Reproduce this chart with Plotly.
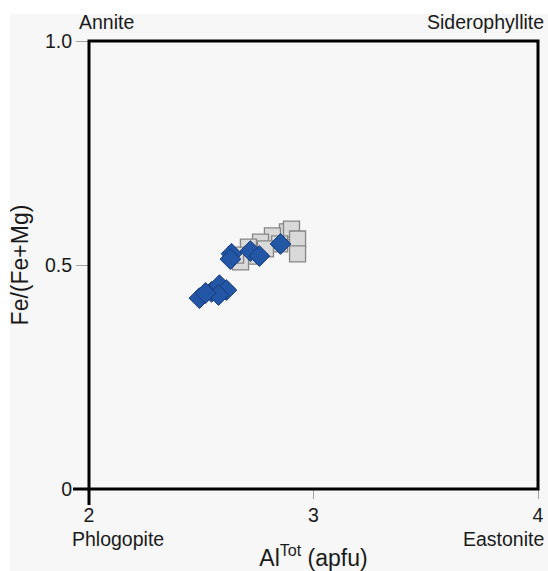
import plotly.graph_objects as go

# Gray squares (series 1)
sq_al = [2.884, 2.902, 2.929, 2.929, 2.817, 2.764, 2.710, 2.733, 2.675, 2.849, 2.653, 2.786]
sq_fe = [0.574, 0.580, 0.558, 0.525, 0.565, 0.551, 0.540, 0.520, 0.507, 0.547, 0.522, 0.536]

# Blue diamonds (series 2)
dm_al = [2.853, 2.719, 2.759, 2.635, 2.630, 2.492, 2.546, 2.581, 2.612, 2.577, 2.519]
dm_fe = [0.547, 0.531, 0.520, 0.525, 0.513, 0.426, 0.440, 0.455, 0.444, 0.433, 0.4375]

x_ticks = [2, 3, 4]
x_ticklabels = ["2", "3", "4"]
y_ticks = [0, 0.5, 1.0]
y_ticklabels = ["0", "0.5", "1.0"]

BG = "#f7f7f7"
FONT = "Liberation Sans, Arial, sans-serif"

fig = go.Figure()
fig.add_trace(go.Scatter(
    x=sq_al, y=sq_fe, mode="markers",
    marker=dict(symbol="square", size=16, color="#d9d9d9",
                line=dict(color="#858585", width=1.3)),
    showlegend=False, cliponaxis=False))
fig.add_trace(go.Scatter(
    x=dm_al, y=dm_fe, mode="markers",
    marker=dict(symbol="diamond", size=16, color="#2456a6",
                line=dict(color="#163c7a", width=1)),
    showlegend=False, cliponaxis=False))

W, H = 548, 571
L, R, T, B = 89, 10, 41, 82
pw, ph = W - L - R, H - T - B

def px_x(p):
    return (p - L) / pw

def px_y(p):
    return (H - B - p) / ph

shapes = [
    dict(type="rect", xref="paper", yref="paper", x0=px_x(10), x1=px_x(W + 5),
         y0=px_y(H + 5), y1=px_y(14), fillcolor=BG, line=dict(width=0), layer="below"),
    dict(type="rect", xref="paper", yref="paper", x0=0, x1=1, y0=0, y1=1,
         line=dict(color="black", width=3), layer="above"),
    dict(type="line", xref="paper", yref="paper", x0=0, x1=0, y0=0, y1=px_y(H - B + 16),
         line=dict(color="black", width=3)),
    dict(type="line", xref="paper", yref="paper", x0=px_x(L - 16), x1=0, y0=0, y1=0,
         line=dict(color="black", width=3)),
]

annotations = [
    dict(text="Annite", xref="paper", yref="paper", x=px_x(77), y=px_y(22),
         xanchor="left", yanchor="middle", showarrow=False),
    dict(text="Siderophyllite", xref="paper", yref="paper", x=px_x(546), y=px_y(22),
         xanchor="right", yanchor="middle", showarrow=False),
    dict(text="Phlogopite", xref="paper", yref="paper", x=px_x(70), y=px_y(539),
         xanchor="left", yanchor="middle", showarrow=False),
    dict(text="Eastonite", xref="paper", yref="paper", x=px_x(546), y=px_y(539),
         xanchor="right", yanchor="middle", showarrow=False),
]

fig.update_layout(
    width=W, height=H,
    margin=dict(l=L, r=R, t=T, b=B),
    paper_bgcolor="white", plot_bgcolor=BG,
    font=dict(family=FONT, size=19.5, color="#1a1a1a"),
    shapes=shapes, annotations=annotations,
    xaxis=dict(range=[2, 4], tickvals=x_ticks, ticktext=x_ticklabels,
               showgrid=False, zeroline=False, showline=False, automargin=False,
               ticks="outside", ticklen=9, tickwidth=1, tickcolor="#a0a0a0",
               title=dict(text="Al<sup>Tot</sup> (apfu)", standoff=26)),
    yaxis=dict(range=[0, 1], tickvals=y_ticks, ticktext=y_ticklabels,
               showgrid=False, zeroline=False, showline=False, automargin=False,
               ticks="outside", ticklen=12, tickwidth=1, tickcolor="#a0a0a0",
               title=dict(text="Fe/(Fe+Mg)", standoff=9)),
)

fig.write_html("out.html")
